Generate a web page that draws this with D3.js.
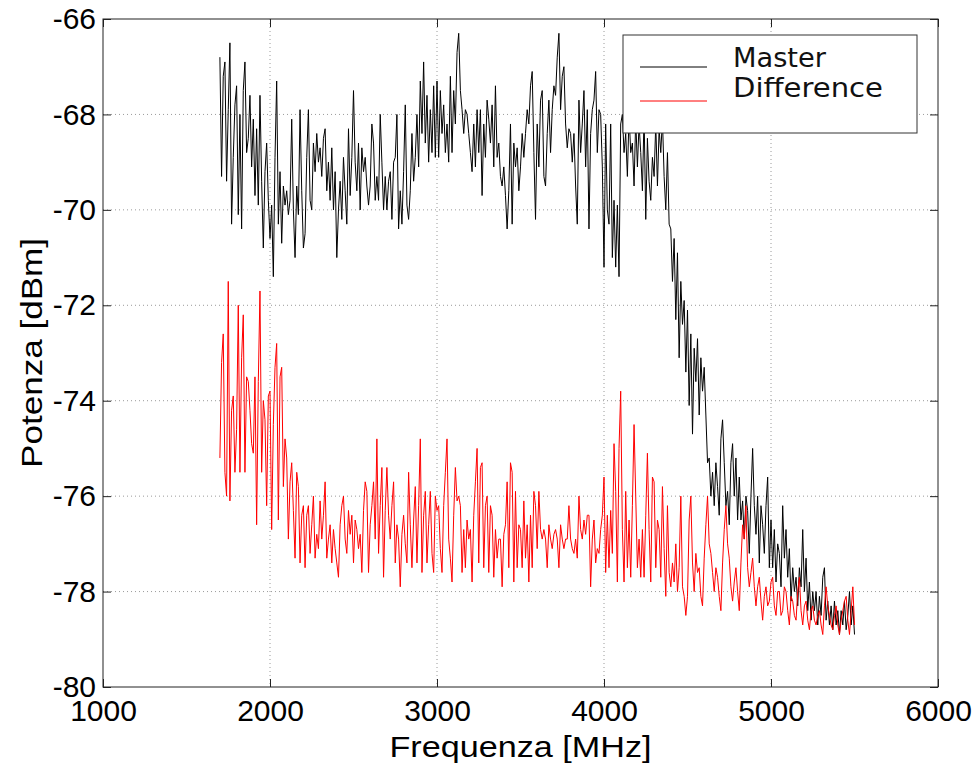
<!DOCTYPE html>
<html>
<head>
<meta charset="utf-8">
<script src="https://cdn.jsdelivr.net/npm/d3@7"></script>
<style>
  body { margin: 0; background: #fff; }
  svg { display: block; }
</style>
</head>
<body>
<div id="chart"></div>
<script>
(function () {
    // sample grid (MHz) and the two traces, 10 MHz apart
    const freqStart = 1700, freqStep = 10;

    const master = [
        -66.8,-69.3,-67.2,-66.9,-69.4,-67.9,-66.5,-70.3,-68.9,-67.8,
        -67.4,-70.1,-68.0,-70.4,-67.5,-66.9,-68.8,-68.5,-67.6,-69.1,
        -68.1,-69.7,-68.3,-69.9,-67.6,-69.4,-70.8,-69.2,-68.6,-69.8,
        -70.6,-69.9,-71.4,-68.9,-67.3,-70.3,-69.2,-70.7,-69.5,-69.9,
        -69.6,-70.1,-69.8,-68.1,-70.0,-71.0,-69.5,-70.1,-67.9,-69.6,
        -70.8,-70.5,-68.9,-67.9,-69.8,-70.0,-68.6,-69.2,-68.4,-69.0,
        -68.7,-69.3,-68.5,-68.3,-69.6,-69.0,-69.8,-68.7,-70.0,-69.2,
        -71.0,-70.0,-69.4,-70.2,-68.9,-69.6,-70.3,-68.3,-69.7,-68.9,
        -67.5,-69.0,-69.6,-68.6,-70.0,-68.7,-69.2,-68.9,-69.5,-69.9,
        -69.5,-68.2,-68.6,-69.8,-69.3,-69.8,-68.0,-69.0,-70.0,-69.3,
        -70.0,-69.4,-69.2,-70.2,-69.0,-68.9,-68.0,-70.4,-69.6,-70.3,
        -69.2,-67.8,-69.9,-70.2,-69.6,-68.4,-69.4,-68.9,-68.0,-69.1,
        -67.3,-68.4,-66.9,-68.6,-67.6,-69.0,-67.9,-68.8,-67.4,-68.9,
        -67.3,-68.9,-67.5,-68.4,-67.8,-68.8,-68.2,-69.0,-67.2,-68.8,
        -67.5,-68.2,-66.7,-66.3,-67.5,-67.9,-68.4,-67.9,-68.0,-68.4,
        -68.8,-69.2,-68.2,-69.1,-67.9,-68.8,-67.9,-69.7,-68.2,-68.9,
        -67.7,-68.1,-68.6,-67.8,-69.1,-67.4,-68.9,-68.6,-69.3,-69.5,
        -69.1,-69.7,-70.4,-69.6,-68.2,-70.3,-68.6,-69.1,-68.7,-69.6,
        -69.1,-68.4,-68.9,-68.4,-67.9,-68.2,-67.4,-67.1,-68.8,-70.2,
        -68.2,-69.1,-67.7,-67.5,-69.3,-69.5,-68.4,-67.7,-68.8,-67.9,
        -67.4,-67.6,-66.8,-66.3,-67.9,-67.2,-67.0,-68.2,-68.7,-68.3,
        -68.4,-69.0,-68.4,-69.5,-70.3,-67.7,-68.8,-68.2,-67.5,-69.1,
        -67.9,-70.4,-68.4,-67.9,-67.7,-67.1,-68.8,-67.9,-68.0,-69.1,
        -71.2,-68.2,-70.0,-70.3,-68.2,-71.0,-69.8,-71.2,-69.9,-71.4,
        -68.2,-68.0,-68.8,-68.4,-69.3,-68.0,-68.8,-68.6,-69.5,-68.1,
        -69.1,-68.2,-68.8,-69.6,-68.0,-70.2,-68.5,-69.4,-69.8,-68.9,
        -69.3,-68.2,-69.5,-68.3,-68.8,-68.1,-69.3,-70.0,-68.8,-70.3,
        -70.4,-71.5,-70.6,-72.3,-70.9,-73.1,-71.5,-72.4,-71.9,-73.4,
        -72.1,-74.1,-72.6,-74.7,-72.9,-73.6,-72.7,-74.3,-73.1,-73.8,
        -73.3,-74.3,-75.3,-75.2,-76.0,-75.5,-76.2,-75.3,-75.8,-76.4,
        -74.8,-74.4,-75.3,-76.2,-75.9,-76.6,-75.3,-74.9,-76.0,-75.2,
        -76.5,-75.6,-76.5,-76.1,-76.9,-76.0,-76.3,-77.2,-76.0,-75.0,
        -76.2,-76.8,-76.0,-77.4,-76.2,-76.6,-77.2,-76.2,-75.6,-77.5,
        -76.5,-77.5,-76.7,-77.8,-77.0,-77.2,-77.9,-76.2,-77.3,-76.7,
        -77.7,-77.1,-78.2,-77.5,-78.0,-77.7,-78.3,-77.5,-77.9,-76.7,
        -78.0,-77.3,-78.4,-77.8,-78.6,-78.0,-78.4,-78.0,-78.7,-78.1,
        -78.5,-77.7,-77.5,-78.6,-78.2,-78.7,-78.3,-78.8,-78.2,-78.7,
        -78.4,-78.9,-78.4,-78.7,-78.2,-78.8,-78.5,-78.0,-78.7,-78.3,
        -78.9
    ];

    const difference = [
        -75.2,-73.2,-72.6,-75.5,-76.0,-71.5,-76.1,-74.2,-73.9,-75.5,
        -74.6,-72.0,-75.5,-73.1,-72.2,-75.5,-73.5,-73.6,-74.2,-74.9,
        -75.1,-73.5,-76.6,-73.6,-71.7,-75.5,-74.0,-74.4,-76.2,-73.9,
        -73.8,-76.7,-74.5,-73.3,-72.8,-76.5,-73.5,-73.3,-75.8,-74.8,
        -75.2,-76.9,-75.7,-75.3,-76.3,-77.3,-75.5,-75.8,-77.4,-76.4,
        -76.2,-77.5,-76.4,-76.2,-77.2,-76.6,-76.0,-77.3,-76.8,-77.1,
        -76.1,-76.9,-76.4,-75.7,-77.3,-76.9,-76.6,-77.4,-76.7,-77.1,
        -77.4,-77.7,-76.6,-76.2,-76.0,-76.9,-77.2,-76.3,-76.8,-76.4,
        -77.4,-76.5,-76.7,-77.1,-76.8,-77.6,-76.3,-75.7,-75.9,-77.6,
        -76.6,-76.2,-75.7,-76.9,-74.8,-77.2,-76.2,-75.4,-77.7,-76.3,
        -75.4,-76.4,-76.9,-76.2,-75.7,-77.4,-76.6,-76.9,-77.9,-76.8,
        -76.4,-77.0,-77.4,-75.5,-76.6,-77.5,-76.5,-75.8,-77.4,-76.2,
        -74.8,-77.6,-76.4,-75.9,-77.4,-76.6,-75.9,-77.2,-77.6,-76.0,
        -76.3,-76.2,-77.1,-77.6,-76.2,-75.5,-74.8,-76.9,-77.3,-77.8,
        -76.4,-75.4,-76.1,-76.0,-76.2,-77.6,-76.7,-77.5,-76.5,-76.9,
        -76.7,-77.8,-76.4,-75.7,-75.0,-77.4,-75.4,-75.3,-77.5,-76.2,
        -76.0,-77.6,-76.2,-76.4,-77.7,-76.7,-77.3,-76.9,-76.9,-77.9,
        -76.8,-76.6,-75.7,-77.5,-75.3,-75.5,-77.8,-75.9,-77.5,-76.6,
        -76.7,-77.5,-76.1,-77.3,-76.6,-77.8,-76.4,-77.5,-75.9,-76.2,
        -77.1,-75.9,-76.7,-76.9,-76.7,-76.9,-77.5,-76.6,-76.9,-77.1,
        -76.8,-76.7,-76.9,-77.5,-76.6,-76.9,-77.1,-76.9,-76.9,-76.2,
        -76.9,-77.1,-77.2,-76.9,-77.3,-76.0,-76.7,-76.9,-76.5,-76.8,
        -76.4,-76.4,-77.9,-76.9,-76.5,-77.4,-77.1,-77.2,-76.7,-76.4,
        -75.6,-77.6,-76.4,-77.5,-76.3,-77.2,-74.9,-75.9,-77.8,-75.0,
        -73.8,-76.7,-77.8,-75.9,-77.5,-76.5,-77.7,-76.2,-74.5,-76.0,
        -77.5,-76.9,-77.7,-76.7,-77.7,-76.4,-75.1,-76.7,-77.8,-75.6,
        -75.7,-77.5,-76.5,-76.7,-77.7,-75.8,-77.1,-78.1,-76.2,-77.6,
        -77.9,-77.4,-77.8,-77.0,-78.0,-77.5,-76.0,-77.9,-78.1,-78.5,
        -78.1,-76.5,-76.0,-77.4,-78.0,-77.2,-77.6,-77.5,-78.1,-78.3,
        -77.3,-76.6,-76.0,-77.0,-77.2,-77.6,-78.0,-77.5,-77.7,-78.1,
        -78.4,-77.4,-76.7,-76.2,-77.0,-77.3,-77.9,-78.2,-77.8,-77.5,
        -78.0,-78.4,-77.4,-76.6,-76.9,-76.2,-77.5,-77.9,-77.6,-77.3,
        -77.9,-78.3,-77.9,-77.7,-78.2,-78.6,-78.1,-77.9,-78.3,-78.2,
        -77.8,-77.7,-78.3,-78.5,-78.0,-78.0,-78.5,-78.4,-77.9,-78.0,
        -78.4,-78.7,-78.1,-78.2,-78.5,-78.6,-78.0,-77.7,-78.4,-78.7,
        -78.3,-78.2,-78.6,-78.8,-78.4,-78.3,-78.6,-78.7,-78.5,-78.4,
        -78.7,-78.9,-78.3,-77.9,-78.3,-78.5,-78.7,-78.8,-78.5,-78.3,
        -78.7,-78.9,-78.6,-78.4,-78.2,-78.1,-78.6,-78.9,-78.4,-77.9,
        -78.7
    ];

    const xTicks = [1000, 2000, 3000, 4000, 5000, 6000];
    const yTicks = [-80, -78, -76, -74, -72, -70, -68, -66];
    const seriesNames = ["Master", "Difference"];
    const seriesColors = ["#000000", "#ff0000"];

    // plot box in page pixels
    const margin = { top: 19, right: 41, bottom: 81, left: 103 };
    const W = 979, H = 768;
    const width = W - margin.left - margin.right;
    const height = H - margin.top - margin.bottom;
    const font = "'Liberation Sans', Arial, Helvetica, sans-serif";

    const svg = d3.select("#chart")
      .append("svg")
        .attr("width", W)
        .attr("height", H);

    const g = svg.append("g")
        .attr("transform", `translate(${margin.left},${margin.top})`);

    const x = d3.scaleLinear().domain([1000, 6000]).range([0, width]);
    const y = d3.scaleLinear().domain([-80, -66]).range([height, 0]);

    // dotted grid
    g.append("g").selectAll("line")
      .data(xTicks.slice(1, -1))
      .join("line")
        .attr("x1", d => x(d)).attr("x2", d => x(d))
        .attr("y1", 0).attr("y2", height)
        .attr("stroke", "#9a9a9a")
        .attr("stroke-width", 1)
        .style("stroke-dasharray", "1,3");

    g.append("g").selectAll("line")
      .data(yTicks.slice(1, -1))
      .join("line")
        .attr("x1", 0).attr("x2", width)
        .attr("y1", d => y(d)).attr("y2", d => y(d))
        .attr("stroke", "#9a9a9a")
        .attr("stroke-width", 1)
        .style("stroke-dasharray", "1,3");

    // traces
    const line = d3.line()
      .x((d, i) => x(freqStart + i * freqStep))
      .y(d => y(d));

    [master, difference].forEach((vals, k) => {
        g.append("path")
          .datum(vals)
          .attr("fill", "none")
          .attr("stroke", seriesColors[k])
          .attr("stroke-width", 1)
          .attr("d", line);
    });

    // axes: labels left and bottom, ticks inward on all four sides
    const plain = d => String(d);   // hyphen minus, as in the original
    g.append("g")
      .attr("transform", `translate(0,${height})`)
      .call(d3.axisBottom(x).tickValues(xTicks).tickFormat(plain)
            .tickSizeInner(-8).tickSizeOuter(0).tickPadding(13));
    g.append("g")
      .call(d3.axisLeft(y).tickValues(yTicks).tickFormat(plain)
            .tickSizeInner(-8).tickSizeOuter(0).tickPadding(7));
    g.append("g")
      .call(d3.axisTop(x).tickValues(xTicks).tickFormat("").tickSizeInner(-8).tickSizeOuter(0));
    g.append("g")
      .attr("transform", `translate(${width},0)`)
      .call(d3.axisRight(y).tickValues(yTicks).tickFormat("").tickSizeInner(-8).tickSizeOuter(0));

    g.selectAll(".domain").remove();
    g.selectAll(".tick line").attr("stroke", "#222").attr("stroke-width", 1);
    g.selectAll(".tick text")
      .attr("fill", "#000")
      .style("font-family", font)
      .style("font-size", "30px");

    // frame
    g.append("rect")
      .attr("width", width).attr("height", height)
      .attr("fill", "none")
      .attr("stroke", "#222")
      .attr("stroke-width", 1);

    // axis titles
    svg.append("text")
      .attr("x", margin.left + width / 2)
      .attr("y", 757)
      .attr("text-anchor", "middle")
      .attr("textLength", 262)
      .attr("lengthAdjust", "spacingAndGlyphs")
      .style("font-family", font)
      .style("font-size", "30px")
      .text("Frequenza [MHz]");

    svg.append("text")
      .attr("transform", `translate(42,${margin.top + height / 2}) rotate(-90)`)
      .attr("text-anchor", "middle")
      .attr("textLength", 230)
      .attr("lengthAdjust", "spacingAndGlyphs")
      .style("font-family", font)
      .style("font-size", "30px")
      .text("Potenza [dBm]");

    // legend
    const legend = svg.append("g").attr("transform", "translate(623,35)");
    legend.append("rect")
      .attr("width", 294).attr("height", 98)
      .attr("fill", "#fff")
      .attr("stroke", "#333")
      .attr("stroke-width", 1);

    const legendWidths = [93, 150];
    seriesNames.forEach((name, k) => {
        const ly = 32 + k * 34;
        legend.append("line")
          .attr("x1", 17).attr("x2", 84)
          .attr("y1", ly).attr("y2", ly)
          .attr("stroke", seriesColors[k])
          .attr("stroke-width", 1);
        legend.append("text")
          .attr("x", 110)
          .attr("y", 32 + k * 30)
          .attr("textLength", legendWidths[k])
          .attr("lengthAdjust", "spacingAndGlyphs")
          .style("font-family", "'DejaVu Sans', Verdana, sans-serif")
          .style("font-size", "26px")
          .attr("fill", "#111")
          .text(name);
    });
})();
</script>
</body>
</html>
